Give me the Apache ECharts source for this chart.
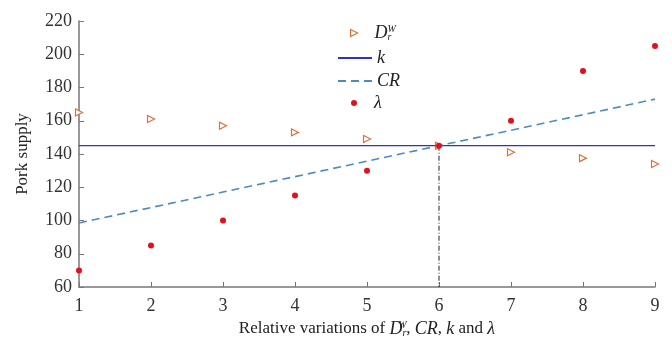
<!DOCTYPE html>
<html>
<head>
<meta charset="utf-8">
<script src="https://cdn.jsdelivr.net/npm/echarts@6/dist/echarts.min.js"></script>
<style>
  html, body { margin: 0; padding: 0; background: #fff; }
  #chart { width: 672px; height: 343px; }
</style>
</head>
<body>
<div id="chart"></div>
<script>
// x positions (relative variations)
const xValues = [1, 2, 3, 4, 5, 6, 7, 8, 9];
// D_r^W markers
const drwValues = [165, 161, 157, 153, 149, 145, 141, 137.5, 134];
// k horizontal line
const kValues = [145, 145, 145, 145, 145, 145, 145, 145, 145];
// CR dashed line
const crValues = [98.5, 107.8, 117.1, 126.4, 135.7, 145, 154.3, 163.6, 173];
// lambda markers
const lambdaValues = [70, 85, 100, 115, 130, 145, 160, 190, 205];
// vertical guide at the crossing point
const guideX = 6;
const guideY = [145, 60];

const serif = "Liberation Serif";
const pair = (ys) => xValues.map((x, i) => [x, ys[i]]);

const chart = echarts.init(document.getElementById("chart"));

const rich = {
  i: { fontFamily: serif, fontStyle: "italic", fontSize: 18, color: "#222" },
  sup: { fontFamily: serif, fontStyle: "italic", fontSize: 10, color: "#222", verticalAlign: "top", width: 0, padding: [0, 0, 8, 0] },
  sub: { fontFamily: serif, fontStyle: "italic", fontSize: 10, color: "#222", verticalAlign: "bottom", padding: [8, 0, 0, 0] },
  n: { fontFamily: serif, fontSize: 17, color: "#222" }
};

const legendNames = { drw: "{i|D}{sup|W}{sub|r}", k: "{i|k}", cr: "{i|CR}", lam: "{i|λ}" };

const triStyle = { color: "#fff", borderColor: "#e0703a", borderWidth: 1.2, opacity: 1 };

// one legend per row so the icons can have their own sizes
const legendRow = (name, left, top, w, h, icon, padLeft, itemStyle) => ({
  left: left,
  top: top,
  itemWidth: w,
  itemHeight: h,
  icon: icon,
  data: [itemStyle ? { name: name, itemStyle: itemStyle } : name],
  formatter: (n) => legendNames[n],
  textStyle: { rich: rich, padding: [0, 0, 0, padLeft] },
  selectedMode: false
});

chart.setOption({
  animation: false,
  backgroundColor: "#fff",
  grid: { left: 79, right: 17, top: 21, bottom: 56, outerBoundsMode: "none" },
  legend: [
    legendRow("drw", 345, 19, 7, 7, "path://M0,0L10,5L0,10Z", 12, triStyle),
    legendRow("k", 332, 44, 34, 12, undefined, 0, { opacity: 0 }),
    legendRow("cr", 332, 67, 34, 12, undefined, 0, { opacity: 0 }),
    legendRow("lam", 346, 89, 6, 6, "circle", 12, null)
  ],
  xAxis: {
    type: "value",
    min: 1,
    max: 9,
    interval: 1,
    splitLine: { show: false },
    axisLine: { onZero: false, lineStyle: { color: "#777", width: 1.5 } },
    axisTick: { inside: true, length: 5, lineStyle: { color: "#777" } },
    axisLabel: { fontFamily: serif, fontSize: 18, color: "#333", margin: 10 },
    name: "{n|Relative variations of }{i|D}{sup|W}{sub|r}{n|, }{i|CR}{n|, }{i|k}{n| and }{i|λ}",
    nameLocation: "middle",
    nameGap: 32,
    nameTextStyle: { rich: rich }
  },
  yAxis: {
    type: "value",
    min: 60,
    max: 220,
    interval: 20,
    splitLine: { show: false },
    axisLine: { show: true, lineStyle: { color: "#777", width: 1.5 } },
    axisTick: { show: true, inside: true, length: 5, lineStyle: { color: "#777" } },
    axisLabel: { fontFamily: serif, fontSize: 18, color: "#333", margin: 7 },
    name: "Pork supply",
    nameLocation: "middle",
    nameGap: 48,
    nameTextStyle: { fontFamily: serif, fontSize: 17, color: "#222" }
  },
  series: [
    {
      name: "drw",
      type: "scatter",
      data: pair(drwValues),
      symbol: "triangle",
      symbolRotate: -90,
      symbolSize: 7,
      itemStyle: triStyle
    },
    {
      name: "k",
      type: "line",
      data: pair(kValues),
      showSymbol: false,
      symbol: "none",
      lineStyle: { color: "#2e2ed8", width: 1.3 },
      itemStyle: { color: "#2e2ed8" }
    },
    {
      name: "cr",
      type: "line",
      data: pair(crValues),
      showSymbol: false,
      symbol: "none",
      lineStyle: { color: "#4a8dbd", width: 1.6, type: [8, 5] },
      itemStyle: { color: "#4a8dbd" }
    },
    {
      name: "lam",
      type: "scatter",
      data: pair(lambdaValues),
      symbol: "circle",
      symbolSize: 6,
      itemStyle: { color: "#e3101c", opacity: 1 },
      z: 5
    },
    {
      name: "guide",
      type: "line",
      data: guideY.map((y) => [guideX, y]),
      showSymbol: false,
      symbol: "none",
      lineStyle: { color: "#222", width: 1, type: [5, 2, 1, 2] },
      z: 1
    }
  ]
});
</script>
</body>
</html>
